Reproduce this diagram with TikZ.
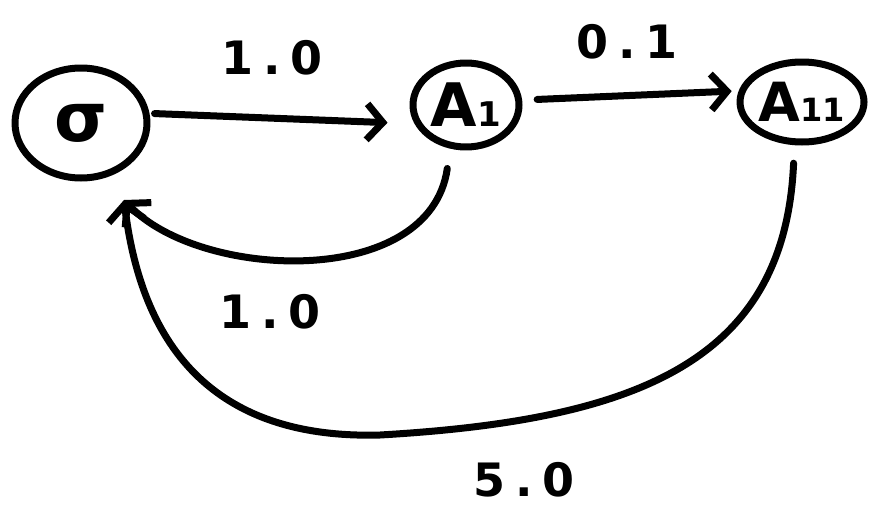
\documentclass[tikz,border=0pt]{standalone}
\usepackage{fontspec}
\usetikzlibrary{arrows.meta,shapes.geometric}
\newfontfamily\hand[LetterSpace=22]{DejaVu Sans Bold}
\newfontfamily\handsym{DejaVu Sans Bold}
\begin{document}
\begin{tikzpicture}[x=1pt,y=-1pt,
  ink/.style={line width=7pt,line cap=round,line join=round},
  state/.style={ink,draw,ellipse,inner sep=0pt},
  arr/.style={ink,-{Straight Barb[length=16pt,width=36pt,line width=7pt]}},
  weight/.style={font=\hand\fontsize{46}{50}\selectfont}
]
\useasboundingbox (0,0) rectangle (872,519);

% states
\node[state,minimum width=132pt,minimum height=110pt,
      font=\handsym\fontsize{68}{68}\selectfont] (s) at (81,123) {σ};
\node[state,minimum width=106pt,minimum height=84pt,
      font=\handsym\fontsize{60}{60}\selectfont] (a1) at (466,105)
      {A{\fontsize{34}{34}\selectfont 1}};
\node[state,minimum width=124pt,minimum height=80pt,
      font=\handsym\fontsize{54}{54}\selectfont] (a11) at (802,102)
      {A{\fontsize{32}{32}\selectfont 11}};

% common landing point of the two return arrows, just below sigma
\coordinate (ret) at (124,200);

% forward transitions
\draw[arr,shorten <=5pt,shorten >=27pt] (s.8) -- (a1.200);
\draw[arr,shorten <=15pt,shorten >=7pt] (a1.5) -- (a11.170);

% return transitions
\draw[arr,shorten <=20pt] (a1.-110) .. controls (430,290) and (200,280) .. (ret);
\draw[arr,shorten <=18pt] (a11.-100) .. controls (785,360) and (640,420) .. (380,435)
      .. controls (200,440) and (140,330) .. (ret);

% weights
\node[weight] (w1) at (272,58) {1.0};
\node[weight] (w2) at (627,42) {0.1};
\node[weight] (w3) at (270,312) {1.0};
\node[weight] (w4) at (524,480) {5.0};
\end{tikzpicture}
\end{document}
